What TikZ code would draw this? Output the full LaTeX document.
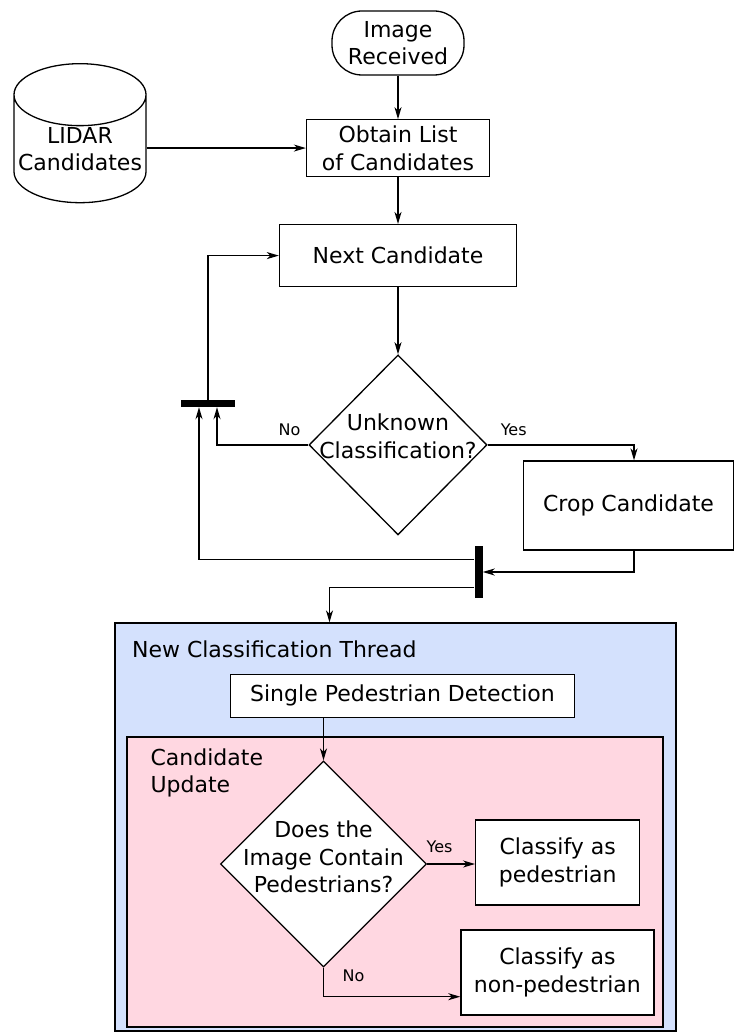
\documentclass[tikz,border=0pt]{standalone}
\usepackage{fontspec}
\setmainfont{DejaVu Sans}
\usetikzlibrary{arrows.meta,positioning,shapes.geometric}

\definecolor{threadblue}{RGB}{212,225,253}
\definecolor{updatepink}{RGB}{255,215,225}

% text of fixed width zero, so the diamonds keep their own size
\newcommand{\zw}[1]{\makebox[0pt]{#1}}

\begin{document}
\begin{tikzpicture}[x=1pt,y=-1pt,
txt/.style={font=\fontsize{22}{27.5}\selectfont},
box/.style={draw,line width=1.3pt,fill=white,align=center,inner sep=0pt,txt},
decision/.style={diamond,draw,line width=1.3pt,fill=white,align=center,inner sep=0pt,aspect=1,txt},
region/.style={draw,line width=1.3pt,inner sep=0pt},
bar/.style={fill=black,inner sep=0pt},
lbl/.style={font=\fontsize{16}{19}\selectfont,inner sep=2pt},
arr/.style={-{Stealth[length=12pt,width=7pt,inset=3.5pt]},line width=1.3pt}]
\useasboundingbox (0,0) rectangle (736,1032);

% main loop
\node[box,rounded corners=30pt,minimum width=132pt,minimum height=64pt] (start) at (398,43) {Image\\Received};
\node[box,minimum width=183pt,minimum height=56.5pt,below=43.5pt of start] (obtain) {Obtain List\\of Candidates};
\node[cylinder,shape border rotate=90,aspect=0.5,draw,line width=1.3pt,fill=white,align=center,inner sep=0pt,txt,
  minimum width=132pt,minimum height=139pt] (lidar) at (80,149) {LIDAR\\Candidates};
\node[box,minimum width=237pt,minimum height=62pt,below=47pt of obtain] (next) {Next Candidate};
\node[decision,minimum width=178pt,minimum height=180pt,text depth=18pt,below=67pt of next] (unknown)
  {\zw{Unknown}\\\zw{Classification?}};
\node[box,minimum width=210pt,minimum height=89pt] (crop) at (628.5,505.5) {Crop Candidate};
\node[bar,minimum width=54pt,minimum height=7pt] (bar1) at (208,403.5) {};
\node[bar,minimum width=8pt,minimum height=52pt] (bar2) at (478.5,572) {};

% classification thread
\node[region,fill=threadblue,minimum width=561pt,minimum height=408pt] (thread) at (395.5,827) {};
\node[txt,inner sep=0pt,anchor=west] (threadlbl) at ([xshift=17.5pt,yshift=-27pt]thread.north west) {New Classification Thread};
\node[box,minimum width=344pt,minimum height=43pt] (detect) at (402.5,695.7) {Single Pedestrian Detection};
\node[region,fill=updatepink,minimum width=536pt,minimum height=290pt] (update) at (395,882) {};
\node[txt,inner sep=0pt,align=left,anchor=north west] (updatelbl) at ([xshift=24pt,yshift=-12pt]update.north west) {Candidate\\Update};
\node[decision,minimum width=206pt,minimum height=206pt,text depth=14pt] (pedq) at (323.5,864)
  {\zw{Does the}\\\zw{Image Contain}\\\zw{Pedestrians?}};
\node[box,minimum width=164pt,minimum height=85pt] (ped) at (557.7,862.5) {Classify as\\pedestrian};
\node[box,minimum width=193pt,minimum height=85pt] (nonped) at (557.4,972.5) {Classify as\\non-pedestrian};

% connectors
\draw[arr] (start) -- (obtain);
\draw[arr] (obtain.west -| lidar.east) -- (obtain.west);
\draw[arr] (obtain) -- (next);
\draw[arr] (next) -- (unknown);
\draw[arr] (unknown.west) -| node[lbl,pos=0.103,above=7pt]{No} ([xshift=9pt]bar1.south);
\draw[arr] (unknown.east) -| node[lbl,pos=0.089,above=7pt]{Yes} ([xshift=5.5pt]crop.north);
\draw[arr] ([xshift=5.5pt]crop.south) |- (bar2.east);
\draw[arr] ([yshift=12.7pt]bar2.west) -| ([xshift=-9pt]bar1.south);
\draw[arr] (bar1.north) |- (next.west);
\draw[arr] ([yshift=-15.7pt]bar2.west) -| ([xshift=-66pt]thread.north);
\draw[arr] (pedq.north |- detect.south) -- (pedq.north);
\draw[arr] (pedq.east) -- node[lbl,pos=0.26,above=9pt]{Yes} (pedq.east -| ped.west);
\draw[arr] (pedq.south) |- node[lbl,pos=0.61,above=12.5pt]{No} ([yshift=-24.2pt]nonped.west);
\end{tikzpicture}
\end{document}
